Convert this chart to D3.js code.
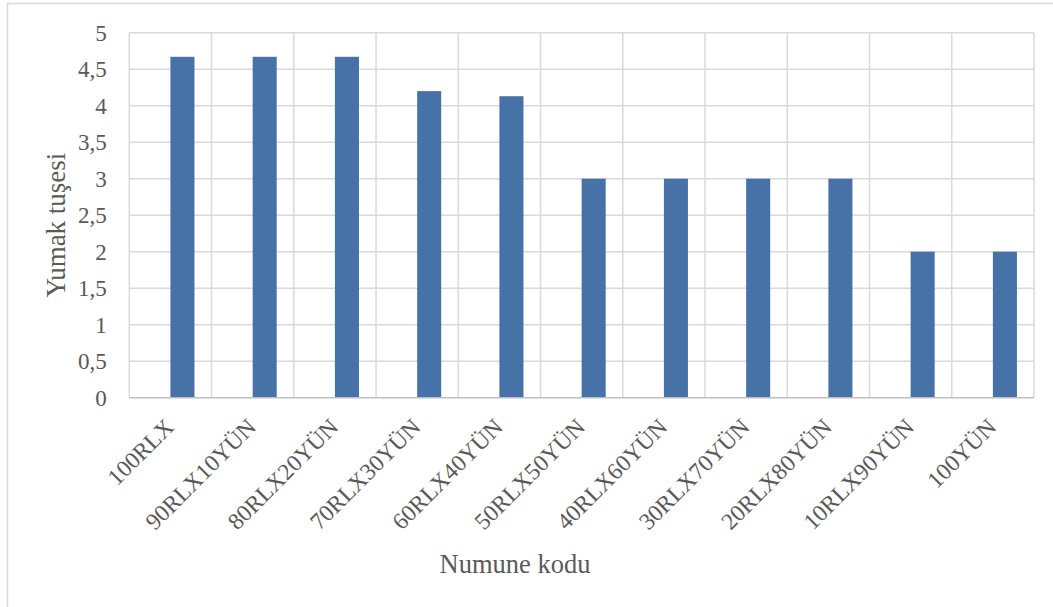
<!DOCTYPE html>
<html>
<head>
<meta charset="utf-8">
<script src="https://cdn.jsdelivr.net/npm/d3@7/dist/d3.min.js"></script>
<style>
  html, body { margin: 0; padding: 0; background: #fff; }
  svg { display: block; }
  svg text { font-family: "Liberation Serif", Tinos, "DejaVu Serif", serif; fill: #595959; }
</style>
</head>
<body>
<svg id="chart" width="1053" height="607"></svg>
<script>
// Sample codes and their ball-handle (yumak tuşesi) scores
const categories = ["100RLX", "90RLX10YÜN", "80RLX20YÜN", "70RLX30YÜN", "60RLX40YÜN",
  "50RLX50YÜN", "40RLX60YÜN", "30RLX70YÜN", "20RLX80YÜN", "10RLX90YÜN", "100YÜN"];
const values = [4.67, 4.67, 4.67, 4.2, 4.13, 3, 3, 3, 3, 2, 2];
const yTicks = [0, 0.5, 1, 1.5, 2, 2.5, 3, 3.5, 4, 4.5, 5];
// Two slots per category; only the second one carries data
const seriesSlots = ["", "Yumak tuşesi"];

const FONT = '"Liberation Serif", Tinos, "DejaVu Serif", serif';
const svg = d3.select("#chart");
const margin = { left: 129.3, right: 1034, top: 32.7, bottom: 397.7 };

// Outer chart frame
svg.append("rect")
  .attr("x", 7.5).attr("y", 3.5)
  .attr("width", 1100).attr("height", 700)
  .attr("fill", "none").attr("stroke", "#d9d9d9").attr("stroke-width", 1.5);

const x = d3.scaleBand().domain(categories).range([margin.left, margin.right]).padding(0);
const xSlot = d3.scaleBand().domain(seriesSlots).range([0, x.bandwidth()])
  .paddingInner(0).paddingOuter(0.71);
const y = d3.scaleLinear().domain([0, 5]).range([margin.bottom, margin.top]);

// Horizontal gridlines
svg.append("g").selectAll("line").data(yTicks.filter(t => t > 0)).join("line")
  .attr("x1", margin.left).attr("x2", margin.right)
  .attr("y1", d => y(d)).attr("y2", d => y(d))
  .attr("stroke", "#d9d9d9").attr("stroke-width", 1.5);

// Vertical gridlines at category boundaries
const bounds = categories.map(c => x(c)).concat([margin.right]);
svg.append("g").selectAll("line").data(bounds).join("line")
  .attr("x1", d => d).attr("x2", d => d)
  .attr("y1", margin.top).attr("y2", margin.bottom)
  .attr("stroke", "#d9d9d9").attr("stroke-width", 1.5);

// Bars
svg.append("g").selectAll("rect").data(values).join("rect")
  .attr("x", (d, i) => x(categories[i]) + xSlot("Yumak tuşesi"))
  .attr("width", xSlot.bandwidth())
  .attr("y", d => y(d))
  .attr("height", d => y(0) - y(d))
  .attr("fill", "#4672a8");

// Baseline
svg.append("line")
  .attr("x1", margin.left).attr("x2", margin.right)
  .attr("y1", y(0)).attr("y2", y(0))
  .attr("stroke", "#bfbfbf").attr("stroke-width", 1.5);

// Y axis labels
const yAxis = d3.axisLeft(y).tickValues(yTicks).tickSize(0).tickPadding(0)
  .tickFormat(d => String(d).replace(".", ","));
const gy = svg.append("g").attr("transform", `translate(${margin.left - 22.5},0)`).call(yAxis);
gy.attr("font-family", FONT);
gy.select(".domain").remove();
gy.selectAll("text").attr("font-size", 23).attr("fill", "#595959");

// X axis labels, rotated
const xAxis = d3.axisBottom(x).tickSize(0).tickPadding(0);
const gx = svg.append("g").attr("transform", `translate(0,${margin.bottom})`).call(xAxis);
gx.attr("font-family", FONT);
gx.select(".domain").remove();
gx.selectAll("text")
  .attr("font-size", 23.5).attr("fill", "#595959")
  .attr("text-anchor", "end")
  .attr("x", 0).attr("y", 0).attr("dy", "0.35em")
  .attr("transform", "translate(-1,25) rotate(-45)");

// Axis titles
svg.append("text").attr("x", 515).attr("y", 573).attr("font-family", FONT)
  .attr("text-anchor", "middle").attr("font-size", 26.5).text("Numune kodu");
svg.append("text").attr("font-family", FONT)
  .attr("transform", "translate(65,225) rotate(-90)")
  .attr("text-anchor", "middle").attr("font-size", 27).text("Yumak tuşesi");
</script>
</body>
</html>
